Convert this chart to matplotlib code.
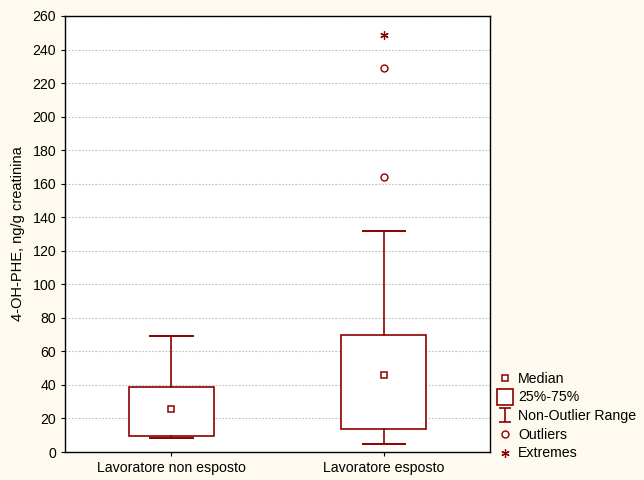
import numpy as np
import matplotlib
matplotlib.use("Agg")
import matplotlib.pyplot as plt
from matplotlib.lines import Line2D

plt.rcParams['font.family'] = ['Liberation Sans', 'DejaVu Sans']

# dati
gruppi = ["Lavoratore non esposto", "Lavoratore esposto"]
mediane = [25.6, 45.7]
q1 = [9.4, 13.5]
q3 = [38.6, 69.8]
whisk_lo = [8.2, 4.6]
whisk_hi = [69.3, 132.0]
outliers = [[], [164.2, 228.8]]
estremi = [[], [248.9]]

rosso = "#8B0000"
fondo = "#FEFAEF"

fig = plt.figure(figsize=(6.44, 4.8), dpi=100, facecolor=fondo)
ax = fig.add_axes([0.101, 0.0583, 0.660, 0.9084])
ax.set_facecolor("white")

stats = []
for i in range(len(gruppi)):
    stats.append(dict(med=mediane[i], q1=q1[i], q3=q3[i],
                      whislo=whisk_lo[i], whishi=whisk_hi[i], fliers=[]))

pos = np.arange(1, len(gruppi) + 1)
ax.bxp(stats, positions=pos, widths=0.4, patch_artist=True, showfliers=False,
       boxprops=dict(facecolor="white", edgecolor=rosso, linewidth=1.2),
       whiskerprops=dict(color=rosso, linewidth=1.2),
       capprops=dict(color=rosso, linewidth=1.4),
       medianprops=dict(linewidth=0), capwidths=0.2, zorder=3)

ax.plot(pos, mediane, ls="none", marker="s", ms=5, mfc="white", mec=rosso,
        mew=1.1, zorder=4)
for p, vals in zip(pos, outliers):
    ax.plot([p] * len(vals), vals, ls="none", marker="o", ms=5, mfc="white",
            mec=rosso, mew=1.0, zorder=4)
for p, vals in zip(pos, estremi):
    ax.plot([p] * len(vals), vals, ls="none", marker=(6, 2, 0), ms=6,
            mec=rosso, mew=0.9, zorder=4)

ax.set_xlim(0.5, 2.5)
ax.set_ylim(0, 260)
ax.set_yticks(np.arange(0, 261, 20))
ax.set_xticks(pos)
ax.set_xticklabels(gruppi)
ax.tick_params(labelsize=10.2, length=3, width=0.8, colors="black")
ax.yaxis.grid(True, linestyle=(0, (1.5, 1.5)), color="#BEBEBE", linewidth=0.8)
ax.set_axisbelow(True)
for s in ax.spines.values():
    s.set_linewidth(1.0)
ax.set_ylabel("4-OH-PHE, ng/g creatinina", fontsize=10.5, labelpad=5)

# legenda
eb = ax.errorbar([np.nan], [np.nan], yerr=[1], fmt="none", ecolor=rosso,
                 capsize=4, elinewidth=1.2, capthick=1.2)
handles = [
    Line2D([], [], ls="none", marker="s", ms=5, mfc="white", mec=rosso, mew=1.1),
    Line2D([], [], ls="none", marker="s", ms=12, mfc="white", mec=rosso, mew=1.2),
    eb,
    Line2D([], [], ls="none", marker="o", ms=5, mfc="white", mec=rosso, mew=1.0),
    Line2D([], [], ls="none", marker=(6, 2, 0), ms=6, mec=rosso, mew=0.9),
]
etichette = ["Median", "25%-75%", "Non-Outlier Range", "Outliers", "Extremes"]
fig.legend(handles, etichette, loc="lower left", bbox_to_anchor=(0.758, 0.02),
           frameon=False, fontsize=10.2, handlelength=1.0, handletextpad=0.4,
           labelspacing=0.33, borderpad=0.2)

fig.savefig("out.png", dpi=100, facecolor=fondo)
